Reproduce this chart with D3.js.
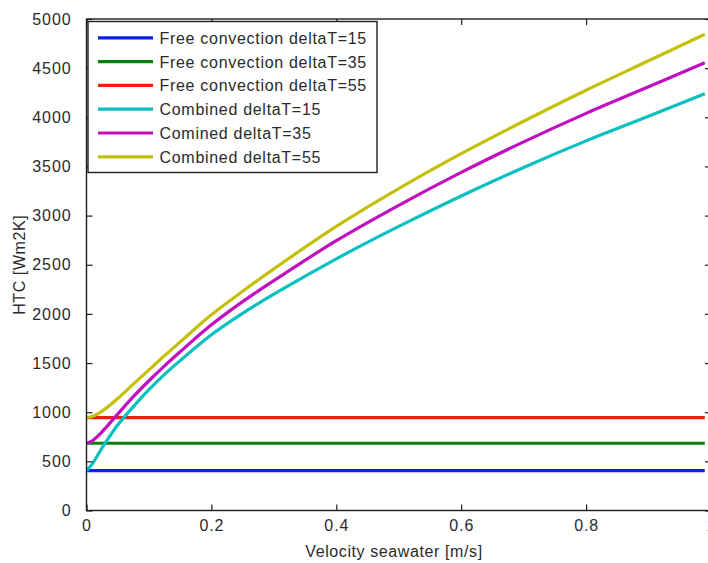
<!DOCTYPE html>
<html>
<head>
<meta charset="utf-8">
<script src="https://cdn.jsdelivr.net/npm/d3@7"></script>
<style>
  html, body { margin: 0; padding: 0; background: #fff; }
  svg { display: block; font-family: "Liberation Sans", Arial, sans-serif; }
</style>
</head>
<body>
<svg id="chart" width="708" height="563"></svg>
<script>
// Seawater velocity samples [m/s]
const velocity = [0, 0.01, 0.02, 0.03, 0.05, 0.075, 0.1, 0.125, 0.15, 0.2, 0.25, 0.3, 0.4, 0.5, 0.6, 0.7, 0.8, 0.9, 0.99];

// Free convection HTC (independent of velocity)
const freeVelocity = [0, 0.99];
const free15 = [405, 405];
const free35 = [684, 684];
const free55 = [945, 945];

// Combined (free + forced) HTC
const combined15 = [405, 480, 585, 687, 870, 1057, 1230, 1385, 1525, 1787, 2005, 2200, 2560, 2890, 3200, 3490, 3760, 4010, 4240];
const combined35 = [684, 712, 768, 836, 981, 1158, 1320, 1472, 1615, 1889, 2125, 2338, 2745, 3105, 3440, 3750, 4040, 4310, 4555];
const combined55 = [945, 959, 990, 1034, 1139, 1286, 1430, 1575, 1715, 1991, 2230, 2458, 2890, 3275, 3630, 3960, 4275, 4575, 4845];

const seriesNames = [
  "Free convection deltaT=15",
  "Free convection deltaT=35",
  "Free convection deltaT=55",
  "Combined deltaT=15",
  "Comined deltaT=35",
  "Combined deltaT=55"
];
const seriesColors = ["#0a1ef0", "#0a800a", "#f01e0a", "#0ac0c0", "#c010c0", "#c4c00a"];

const xTicks = [0, 0.2, 0.4, 0.6, 0.8, 1];
const yTicks = [0, 500, 1000, 1500, 2000, 2500, 3000, 3500, 4000, 4500, 5000];

const series = [
  { x: freeVelocity, y: free15 },
  { x: freeVelocity, y: free35 },
  { x: freeVelocity, y: free55 },
  { x: velocity, y: combined15 },
  { x: velocity, y: combined35 },
  { x: velocity, y: combined55 }
].map((s, i) => ({ name: seriesNames[i], color: seriesColors[i],
  points: s.x.map((v, j) => [v, s.y[j]]) }));

const svg = d3.select("#chart");
const plot = { left: 86.5, right: 711, top: 19, bottom: 510.5 };

const x = d3.scaleLinear().domain([0, 1]).range([plot.left, plot.right]);
const y = d3.scaleLinear().domain([0, 5000]).range([plot.bottom, plot.top]);

const axisColor = "#1e1e1e";
const textColor = "#2a2a2a";
const tickLen = 6;

// Data lines (clipped to the axes box)
svg.append("clipPath").attr("id", "clip")
  .append("rect")
  .attr("x", plot.left).attr("y", plot.top)
  .attr("width", plot.right - plot.left).attr("height", plot.bottom - plot.top);

const line = d3.line()
  .x(d => x(d[0]))
  .y(d => y(d[1]))
  .curve(d3.curveCatmullRom.alpha(0.5));

svg.append("g").attr("clip-path", "url(#clip)")
  .selectAll("path")
  .data(series)
  .join("path")
  .attr("d", d => line(d.points))
  .attr("fill", "none")
  .attr("stroke", d => d.color)
  .attr("stroke-width", 3.2)
  .attr("stroke-linejoin", "round");

// Axes: bottom and left with labels, top and right mirrored ticks only
const fontSize = 16;
const styleAxis = g => {
  g.select(".domain").remove();
  g.selectAll(".tick line").attr("stroke", axisColor).attr("stroke-width", 1.2);
  g.selectAll(".tick text")
    .attr("fill", textColor)
    .style("font-size", fontSize + "px")
    .style("letter-spacing", "0.9px")
    .style("font-family", "'Liberation Sans', Arial, sans-serif");
};

svg.append("g")
  .attr("transform", `translate(0,${plot.bottom})`)
  .call(d3.axisBottom(x).tickValues(xTicks).tickFormat(d3.format("~g"))
    .tickSizeInner(-tickLen).tickSizeOuter(0).tickPadding(9))
  .call(styleAxis);

svg.append("g")
  .attr("transform", `translate(0,${plot.top})`)
  .call(d3.axisTop(x).tickValues(xTicks).tickFormat("")
    .tickSizeInner(-tickLen).tickSizeOuter(0))
  .call(styleAxis);

svg.append("g")
  .attr("transform", `translate(${plot.left},0)`)
  .call(d3.axisLeft(y).tickValues(yTicks).tickFormat(d3.format("d"))
    .tickSizeInner(-tickLen).tickSizeOuter(0).tickPadding(15))
  .call(styleAxis);

svg.append("g")
  .attr("transform", `translate(${plot.right},0)`)
  .call(d3.axisRight(y).tickValues(yTicks).tickFormat("")
    .tickSizeInner(-tickLen).tickSizeOuter(0))
  .call(styleAxis);

// Axes box
svg.append("rect")
  .attr("x", plot.left).attr("y", plot.top)
  .attr("width", plot.right - plot.left).attr("height", plot.bottom - plot.top)
  .attr("fill", "none").attr("stroke", axisColor).attr("stroke-width", 1.4);

// Axis titles
svg.append("text")
  .attr("x", 394).attr("y", 556.5)
  .attr("text-anchor", "middle")
  .attr("fill", textColor)
  .style("font-size", fontSize + "px")
  .style("letter-spacing", "0.6px")
  .text("Velocity seawater [m/s]");

svg.append("text")
  .attr("transform", `translate(25,${(plot.top + plot.bottom) / 2}) rotate(-90)`)
  .attr("text-anchor", "middle")
  .attr("fill", textColor)
  .style("font-size", fontSize + "px")
  .style("letter-spacing", "0.6px")
  .text("HTC [Wm2K]");

// Legend
const legend = { x: 88, y: 21.5, w: 289, h: 151, row0: 37.8, rowStep: 23.8 };
svg.append("rect")
  .attr("x", legend.x).attr("y", legend.y)
  .attr("width", legend.w).attr("height", legend.h)
  .attr("fill", "#fff").attr("stroke", axisColor).attr("stroke-width", 1.4);

const items = svg.append("g").selectAll("g")
  .data(series)
  .join("g")
  .attr("transform", (d, i) => `translate(0,${legend.row0 + i * legend.rowStep})`);

items.append("line")
  .attr("x1", 98).attr("x2", 153)
  .attr("stroke", d => d.color).attr("stroke-width", 3.2);

items.append("text")
  .attr("x", 159.5).attr("y", 6)
  .attr("fill", textColor)
  .style("font-size", fontSize + "px")
  .style("letter-spacing", "0.7px")
  .text(d => d.name);
</script>
</body>
</html>
